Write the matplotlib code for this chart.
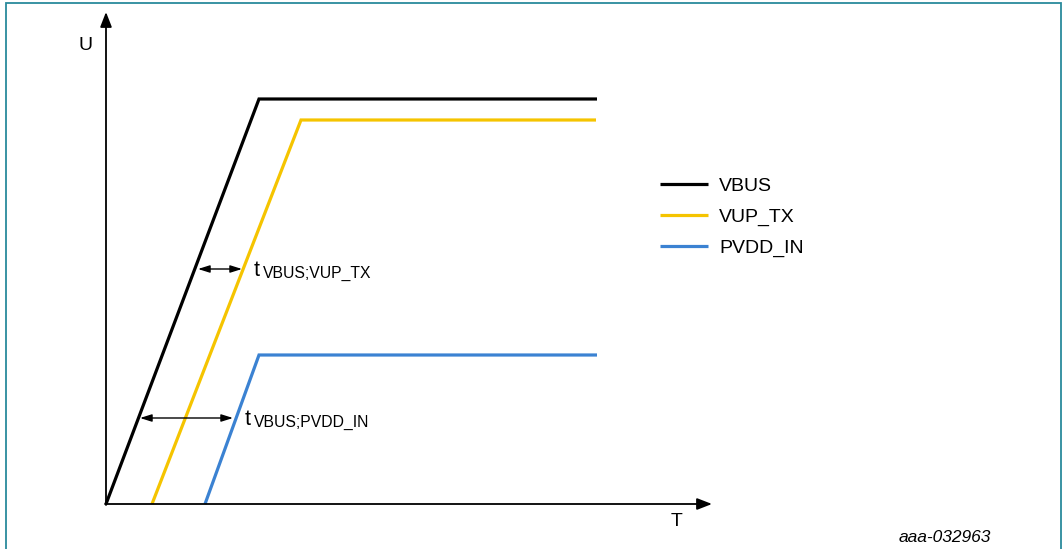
import matplotlib
matplotlib.use('Agg')
import matplotlib.pyplot as plt
from matplotlib.patches import Rectangle

plt.rcParams['font.family'] = ['Liberation Sans', 'DejaVu Sans']

# waveform corner points (time, voltage), arbitrary units
vbus_t = [0, 153, 491]
vbus_u = [0, 405, 405]
vup_t = [46, 195, 490]
vup_u = [0, 384, 384]
pvdd_t = [99, 153, 491]
pvdd_u = [0, 149, 149]

series_names = ['VBUS', 'VUP_TX', 'PVDD_IN']
series_colors = ['#000000', '#F5C400', '#3B82D2']

# delay markers: (start, end, level, subscript)
delays = [(92, 136, 235, 'VBUS;VUP_TX'),
          (34, 127, 86, 'VBUS;PVDD_IN')]

fig = plt.figure(figsize=(10.63, 5.49), dpi=100)
ax = fig.add_axes([0, 0, 1, 1])
ax.set_xlim(-106, 957)
ax.set_ylim(-45, 504)
ax.axis('off')

# frame
fig.patches.append(Rectangle((6 / 1063, -0.01), (1061 - 6) / 1063, (549 - 3) / 549 + 0.01,
                             transform=fig.transFigure, fill=False,
                             edgecolor='#2A8A9C', linewidth=1.3))

# axes arrows
arw = dict(arrowstyle='-|>,head_length=0.9,head_width=0.35', color='black', lw=1.3,
           shrinkA=0, shrinkB=0)
ax.annotate('', xy=(0, 492), xytext=(0, -1), arrowprops=arw)
ax.annotate('', xy=(606, 0), xytext=(-1, 0), arrowprops=arw)
ax.text(-21, 459, 'U', fontsize=14, ha='center', va='center')
ax.text(571, -18, 'T', fontsize=14, ha='center', va='center')

for t, u, c in zip([vbus_t, vup_t, pvdd_t], [vbus_u, vup_u, pvdd_u], series_colors):
    ax.plot(t, u, color=c, lw=2.3, solid_capstyle='butt', solid_joinstyle='miter')

# legend
for i, (name, c) in enumerate(zip(series_names, series_colors)):
    y = 320 - i * 31
    ax.plot([554, 602], [y, y], color=c, lw=2.3, solid_capstyle='butt')
    ax.text(613, y - 7, name, fontsize=14, va='baseline', ha='left')

# delay annotations
for x0, x1, y, sub in delays:
    ax.annotate('', xy=(x1, y), xytext=(x0, y),
                arrowprops=dict(arrowstyle='<|-|>,head_length=0.7,head_width=0.22',
                                color='black', lw=1.0, shrinkA=0, shrinkB=0))
    ax.text(x1 + 12, y - 7, 't', fontsize=15.5, va='baseline', ha='left')
    ax.text(x1 + 21, y - 9, sub, fontsize=11.3, va='baseline', ha='left')

ax.text(885, -38, 'aaa-032963', fontsize=12.5, style='italic', ha='right', va='baseline')

fig.savefig('out.png', dpi=100)
